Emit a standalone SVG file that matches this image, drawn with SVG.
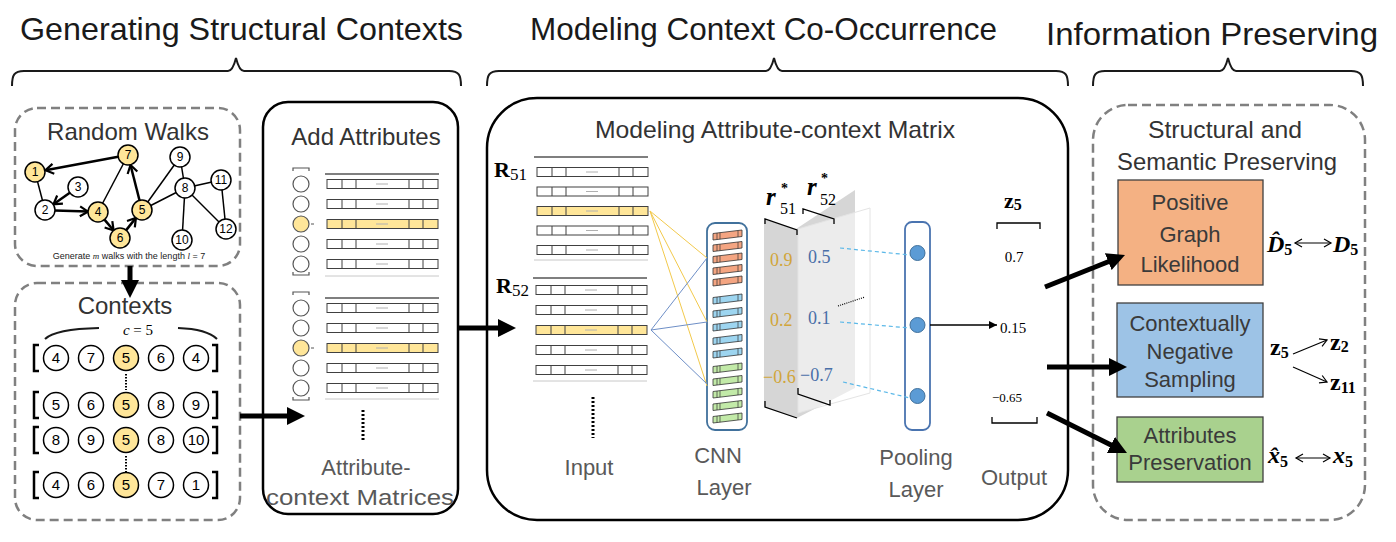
<svg xmlns="http://www.w3.org/2000/svg" width="1396" height="542" viewBox="0 0 1396 542">
<defs>
<style>
text{font-family:"Liberation Sans",Arial,sans-serif}
.title{font-size:32px;fill:#1a1a1a}
.ptitle{font-size:24px;fill:#333;text-anchor:middle}
.glbl{font-size:22px;fill:#595959;text-anchor:middle}
.btxt{font-size:22px;fill:#3a3a3a;text-anchor:middle}
.brace{fill:none;stroke:#1a1a1a;stroke-width:2}
.dash{fill:#fff;stroke:#808080;stroke-width:2.5;stroke-dasharray:9 5}
.solid{fill:#fff;stroke:#000;stroke-width:2.5}
.gn circle{fill:#fff;stroke:#000;stroke-width:1.5}
.gn text{font-size:12px;text-anchor:middle;fill:#000}
.yl circle{fill:#ffe699}
.edge{stroke:#000;stroke-width:1.5}
.warr{stroke:#000;stroke-width:2.5;marker-end:url(#vhead)}
.thick{stroke:#000;stroke-width:5;fill:none;marker-end:url(#bighead)}
.cn circle{fill:#fff;stroke:#000;stroke-width:1.5}
.cn .y{fill:#ffe699}
.cn text{font-size:15px;text-anchor:middle}
.brk{fill:none;stroke:#000;stroke-width:2.5}
.vb{fill:none;stroke:#555;stroke-width:1.2}
.ac{fill:#fff;stroke:#555;stroke-width:1.2}
.math{font-family:"Liberation Serif","DejaVu Serif",serif;font-weight:bold}
.num{font-family:"Liberation Serif","DejaVu Serif",serif}
.gold{fill:#d1a53a;font-size:18px}
.blu{fill:#4a6fa8;font-size:18px}
.cl{stroke-width:1;fill:none}
.pd{stroke:#5bb8e8;stroke-width:1.2;stroke-dasharray:4 3}
.tline{stroke:#000;stroke-width:1.2}
.bline{stroke:#c8c8c8;stroke-width:1}
.small{stroke:#000;stroke-width:1.3;fill:none}
</style>
<marker id="vhead" markerUnits="userSpaceOnUse" markerWidth="14" markerHeight="14" refX="10" refY="7" orient="auto">
<path d="M2,2 L10,7 L2,12" fill="none" stroke="#000" stroke-width="2.2"/>
</marker>
<marker id="bighead" markerUnits="userSpaceOnUse" markerWidth="20" markerHeight="18" refX="4" refY="9" orient="auto">
<path d="M0,0 L18,9 L0,18 z" fill="#000"/>
</marker>
<marker id="thinhead" markerUnits="userSpaceOnUse" markerWidth="10" markerHeight="10" refX="8" refY="5" orient="auto">
<path d="M0,1 L8,5 L0,9 z" fill="#000"/>
</marker>
<marker id="openhead" markerUnits="userSpaceOnUse" markerWidth="10" markerHeight="10" refX="8" refY="5" orient="auto">
<path d="M1,1 L8,5 L1,9" fill="none" stroke="#000" stroke-width="1.2"/>
</marker>
<marker id="openstart" markerUnits="userSpaceOnUse" markerWidth="10" markerHeight="10" refX="2" refY="5" orient="auto">
<path d="M9,1 L2,5 L9,9" fill="none" stroke="#000" stroke-width="1.2"/>
</marker>
<g id="row">
<rect x="0" y="-4.5" width="111" height="9" stroke="#404040" stroke-width="1"/>
<path d="M15,-4.5v9M29,-4.5v9M82,-4.5v9M96,-4.5v9" stroke="#404040" stroke-width="1" fill="none"/>
<path d="M49,0h12" stroke="#b0b0b0" stroke-width="1" fill="none"/>
</g>
<g id="bar">
<polygon points="0,3.5 29,0 29,6.5 0,10" stroke="#333" stroke-width="0.8"/>
<path d="M4,3 v6.5 M7,2.7 v6.5 M25,0.5 v6.5" stroke="#333" stroke-width="0.7" fill="none"/>
</g>
</defs>

<!-- section titles -->
<g id="titles">
<text class="title" x="20" y="40" textLength="443" lengthAdjust="spacingAndGlyphs">Generating Structural Contexts</text>
<text class="title" x="530" y="40" textLength="467" lengthAdjust="spacingAndGlyphs">Modeling Context Co-Occurrence</text>
<text class="title" x="1046" y="45" textLength="332" lengthAdjust="spacingAndGlyphs">Information Preserving</text>
<path class="brace" d="M12,86 C12,75 14,71 24,71 L228,71 C232,71 234,66 236,58 C238,66 240,71 244,71 L449,71 C459,71 461,75 461,86"/>
<path class="brace" d="M487,86 C487,75 489,71 499,71 L766,71 C770,71 772,66 774,58 C776,66 778,71 782,71 L1056,71 C1066,71 1068,75 1068,86"/>
<path class="brace" d="M1093,86 C1093,75 1095,71 1105,71 L1220,71 C1224,71 1226,66 1228,58 C1230,66 1232,71 1236,71 L1351,71 C1361,71 1363,75 1363,86"/>
</g>

<!-- Random walks panel -->
<g id="random-walks">
<rect class="dash" x="15" y="108" width="225" height="158" rx="22"/>
<text class="ptitle" x="128" y="140">Random Walks</text>
<g id="rw-edges">
<line class="edge" x1="35" y1="172" x2="45" y2="210"/>
<line class="edge" x1="98" y1="212" x2="128" y2="155"/>
<line class="edge" x1="142" y1="210" x2="180" y2="157"/>
<line class="edge" x1="142" y1="210" x2="185" y2="188"/>
<line class="edge" x1="180" y1="157" x2="185" y2="188"/>
<line class="edge" x1="185" y1="188" x2="221" y2="180"/>
<line class="edge" x1="185" y1="188" x2="182" y2="240"/>
<line class="edge" x1="185" y1="188" x2="226" y2="229"/>
<line class="edge" x1="221" y1="180" x2="226" y2="229"/>
<line class="warr" x1="118.2" y1="156.8" x2="45.5" y2="170.2"/>
<line class="warr" x1="69.8" y1="192.7" x2="53.5" y2="204.2"/>
<line class="warr" x1="55" y1="210.4" x2="88" y2="211.6"/>
<line class="warr" x1="104.5" y1="219.6" x2="113.6" y2="230.5"/>
<line class="warr" x1="126.2" y1="230.1" x2="135.9" y2="217.9"/>
<line class="warr" x1="139.5" y1="200.3" x2="130.5" y2="165"/>
</g>
<g id="n1" class="gn yl"><circle cx="35" cy="172" r="10"/><text x="35" y="176">1</text></g>
<g id="n2" class="gn"><circle cx="45" cy="210" r="10"/><text x="45" y="214">2</text></g>
<g id="n3" class="gn"><circle cx="78" cy="187" r="10"/><text x="78" y="191">3</text></g>
<g id="n4" class="gn yl"><circle cx="98" cy="212" r="10"/><text x="98" y="216">4</text></g>
<g id="n5" class="gn yl"><circle cx="142" cy="210" r="10"/><text x="142" y="214">5</text></g>
<g id="n6" class="gn yl"><circle cx="120" cy="238" r="10"/><text x="120" y="242">6</text></g>
<g id="n7" class="gn yl"><circle cx="128" cy="155" r="10"/><text x="128" y="159">7</text></g>
<g id="n8" class="gn"><circle cx="185" cy="188" r="10"/><text x="185" y="192">8</text></g>
<g id="n9" class="gn"><circle cx="180" cy="157" r="10"/><text x="180" y="161">9</text></g>
<g id="n10" class="gn"><circle cx="182" cy="240" r="10"/><text x="182" y="244">10</text></g>
<g id="n11" class="gn"><circle cx="221" cy="180" r="10"/><text x="221" y="184">11</text></g>
<g id="n12" class="gn"><circle cx="226" cy="229" r="10"/><text x="226" y="233">12</text></g>
<text x="129" y="259" font-size="9" text-anchor="middle" fill="#222">Generate <tspan font-family="Liberation Serif" font-style="italic">m</tspan> walks with the length <tspan font-family="Liberation Serif" font-style="italic">l</tspan> = 7</text>
</g>

<!-- Contexts panel -->
<g id="contexts">
<rect class="dash" x="15" y="283" width="225" height="237" rx="22"/>
<text class="ptitle" x="125" y="314" font-size="23">Contexts</text>
<path class="brace" d="M45,339 Q55,329 99,328 M178,328 Q207,329 217,339"/>
<text x="138" y="335" font-size="15" text-anchor="middle" class="num"><tspan font-style="italic">c</tspan> = 5</text>
<g class="cn">
<path class="brk" d="M39,345 h-5 v26 h5 M212,345 h5 v26 h-5"/>
<circle cx="56" cy="358" r="12.5"/><text x="56" y="363">4</text>
<circle cx="91" cy="358" r="12.5"/><text x="91" y="363">7</text>
<circle class="y" cx="126" cy="358" r="12.5"/><text x="126" y="363">5</text>
<circle cx="161" cy="358" r="12.5"/><text x="161" y="363">6</text>
<circle cx="196" cy="358" r="12.5"/><text x="196" y="363">4</text>
<path d="M126,374 V390" stroke="#000" stroke-width="2" stroke-dasharray="1.5 1.5"/>
<path class="brk" d="M39,392 h-5 v26 h5 M212,392 h5 v26 h-5"/>
<circle cx="56" cy="405" r="12.5"/><text x="56" y="410">5</text>
<circle cx="91" cy="405" r="12.5"/><text x="91" y="410">6</text>
<circle class="y" cx="126" cy="405" r="12.5"/><text x="126" y="410">5</text>
<circle cx="161" cy="405" r="12.5"/><text x="161" y="410">8</text>
<circle cx="196" cy="405" r="12.5"/><text x="196" y="410">9</text>
<path class="brk" d="M39,427 h-5 v26 h5 M212,427 h5 v26 h-5"/>
<circle cx="56" cy="440" r="12.5"/><text x="56" y="445">8</text>
<circle cx="91" cy="440" r="12.5"/><text x="91" y="445">9</text>
<circle class="y" cx="126" cy="440" r="12.5"/><text x="126" y="445">5</text>
<circle cx="161" cy="440" r="12.5"/><text x="161" y="445">8</text>
<circle cx="196" cy="440" r="12.5"/><text x="196" y="445">10</text>
<path d="M126,456 V473" stroke="#000" stroke-width="2" stroke-dasharray="1.5 1.5"/>
<path class="brk" d="M39,472 h-5 v26 h5 M212,472 h5 v26 h-5"/>
<circle cx="56" cy="485" r="12.5"/><text x="56" y="490">4</text>
<circle cx="91" cy="485" r="12.5"/><text x="91" y="490">6</text>
<circle class="y" cx="126" cy="485" r="12.5"/><text x="126" y="490">5</text>
<circle cx="161" cy="485" r="12.5"/><text x="161" y="490">7</text>
<circle cx="196" cy="485" r="12.5"/><text x="196" y="490">1</text>
</g>
</g>

<!-- Add attributes panel -->
<g id="add-attributes">
<rect class="solid" x="263" y="102" width="195" height="412" rx="25"/>
<text class="ptitle" x="366" y="145">Add Attributes</text>
<path class="vb" d="M293,171 v-3 h16 v3 M293,272 v3 h16 v-3 M293,295 v-3 h16 v3 M293,397 v3 h16 v-3"/>
<circle class="ac" cx="301" cy="184" r="8"/>
<circle class="ac" cx="301" cy="204" r="8"/>
<circle class="ac" cx="301" cy="224" r="8" style="fill:#ffe699"/>
<circle class="ac" cx="301" cy="244" r="8"/>
<circle class="ac" cx="301" cy="264" r="8"/>
<circle class="ac" cx="301" cy="308" r="8"/>
<circle class="ac" cx="301" cy="328" r="8"/>
<circle class="ac" cx="301" cy="348" r="8" style="fill:#ffe699"/>
<circle class="ac" cx="301" cy="368" r="8"/>
<circle class="ac" cx="301" cy="388" r="8"/>
<path d="M311,224h3 M311,348h3" stroke="#555" stroke-width="1"/>
<line class="tline" x1="325" y1="174" x2="439" y2="174"/>
<line class="bline" x1="325" y1="276" x2="439" y2="276"/>
<line class="tline" x1="325" y1="298" x2="439" y2="298"/>
<line class="bline" x1="325" y1="399" x2="439" y2="399"/>
<use href="#row" x="327" y="184" fill="#fff"/>
<use href="#row" x="327" y="204" fill="#fff"/>
<use href="#row" x="327" y="224" fill="#ffe699"/>
<use href="#row" x="327" y="244" fill="#fff"/>
<use href="#row" x="327" y="264" fill="#fff"/>
<use href="#row" x="327" y="308" fill="#fff"/>
<use href="#row" x="327" y="328" fill="#fff"/>
<use href="#row" x="327" y="348" fill="#ffe699"/>
<use href="#row" x="327" y="368" fill="#fff"/>
<use href="#row" x="327" y="388" fill="#fff"/>
<path d="M363,410 V442" stroke="#000" stroke-width="3" stroke-dasharray="2 2"/>
<text class="glbl" x="366" y="475">Attribute-</text>
<text class="glbl" x="360" y="505" textLength="188" lengthAdjust="spacingAndGlyphs">context Matrices</text>
</g>

<!-- Modeling panel -->
<g id="modeling">
<rect class="solid" x="487" y="98" width="581" height="422" rx="50"/>
<text class="ptitle" x="775" y="138" textLength="360" lengthAdjust="spacingAndGlyphs">Modeling Attribute-context Matrix</text>
<g id="input">
<text class="math" x="494" y="177" font-size="22">R<tspan font-size="17" dy="3" font-weight="normal">51</tspan></text>
<text class="math" x="496" y="293" font-size="22">R<tspan font-size="17" dy="3" font-weight="normal">52</tspan></text>
<line class="tline" x1="534" y1="157" x2="648" y2="157"/>
<line class="bline" x1="534" y1="260" x2="648" y2="260"/>
<line class="tline" x1="533" y1="278" x2="647" y2="278"/>
<line class="bline" x1="533" y1="381" x2="647" y2="381"/>
<use href="#row" x="537" y="172" fill="#fff"/>
<use href="#row" x="537" y="191.5" fill="#fff"/>
<use href="#row" x="537" y="211" fill="#ffe699"/>
<use href="#row" x="537" y="230.5" fill="#fff"/>
<use href="#row" x="537" y="250" fill="#fff"/>
<use href="#row" x="536" y="290" fill="#fff"/>
<use href="#row" x="536" y="310" fill="#fff"/>
<use href="#row" x="536" y="330" fill="#ffe699"/>
<use href="#row" x="536" y="350" fill="#fff"/>
<use href="#row" x="536" y="370" fill="#fff"/>
<path d="M593,397 V438" stroke="#000" stroke-width="3" stroke-dasharray="2 2"/>
<text class="glbl" x="589" y="475">Input</text>
</g>
<g id="cnn">
<rect x="707" y="223" width="40" height="207" rx="8" fill="#fff" stroke="#41719c" stroke-width="1.8"/>
<use href="#bar" x="713" y="230" fill="#f4a582"/>
<use href="#bar" x="713" y="241.5" fill="#f4a582"/>
<use href="#bar" x="713" y="253" fill="#f4a582"/>
<use href="#bar" x="713" y="264.5" fill="#f4a582"/>
<use href="#bar" x="713" y="276" fill="#f4a582"/>
<use href="#bar" x="713" y="294" fill="#9dd5f0"/>
<use href="#bar" x="713" y="307.5" fill="#9dd5f0"/>
<use href="#bar" x="713" y="321" fill="#9dd5f0"/>
<use href="#bar" x="713" y="334.5" fill="#9dd5f0"/>
<use href="#bar" x="713" y="348" fill="#9dd5f0"/>
<use href="#bar" x="713" y="363" fill="#c2eaa8"/>
<use href="#bar" x="713" y="375.5" fill="#c2eaa8"/>
<use href="#bar" x="713" y="388" fill="#c2eaa8"/>
<use href="#bar" x="713" y="400.5" fill="#c2eaa8"/>
<use href="#bar" x="713" y="413" fill="#c2eaa8"/>
<text class="glbl" x="718" y="463">CNN</text>
<text class="glbl" x="724" y="495">Layer</text>
</g>
<g id="planes">
<polygon points="764,219 796,229 855,190 855,388 797,418 764,407" fill="#d6d6d6"/>
<polygon points="798,229 870,208 870,393 798,413" fill="#fff" fill-opacity="0.55" stroke="#e4e4e4" stroke-width="1"/>
<path class="small" stroke-width="2" d="M765,224 L765,219 L797,230 L797,235"/>
<path class="small" stroke-width="1.6" d="M803,214 L803,209 L834,219 L834,224"/>
<path class="small" stroke-width="2" d="M765,401 L765,407 L797,418"/>
<path class="small" stroke-width="1.6" d="M798,388 L798,394 L830,405 L830,400"/>
<text class="math" x="766" y="205" font-size="25" font-style="italic">r</text>
<text class="math" x="781" y="193" font-size="14">*</text>
<text class="num" x="780" y="214" font-size="16">51</text>
<text class="math" x="807" y="195" font-size="25" font-style="italic">r</text>
<text class="math" x="821" y="183" font-size="14">*</text>
<text class="num" x="820" y="205" font-size="16">52</text>
<text class="num gold" x="770" y="266">0.9</text>
<text class="num gold" x="770" y="326">0.2</text>
<text class="num gold" x="763" y="383">−0.6</text>
<text class="num blu" x="808" y="263">0.5</text>
<text class="num blu" x="808" y="324">0.1</text>
<text class="num blu" x="800" y="381">−0.7</text>
<path d="M838,306 L865,297" stroke="#000" stroke-width="1.2" stroke-dasharray="1 1.2"/>
</g>
<g id="pooling">
<rect x="905" y="222" width="25" height="208" rx="7" fill="#fff" stroke="#4a74b0" stroke-width="1.8"/>
<circle cx="917.5" cy="253" r="7.5" fill="#5b9bd5" stroke="#41719c" stroke-width="1"/>
<circle cx="917.5" cy="325" r="7.5" fill="#5b9bd5" stroke="#41719c" stroke-width="1"/>
<circle cx="917.5" cy="396" r="7.5" fill="#5b9bd5" stroke="#41719c" stroke-width="1"/>
<text class="glbl" x="916" y="465">Pooling</text>
<text class="glbl" x="916" y="497">Layer</text>
</g>
<g id="output">
<text class="math" x="1004" y="208" font-size="22">z<tspan font-size="16" dy="2">5</tspan></text>
<path class="small" d="M997,229 L997,223 L1040,223 L1040,229"/>
<text class="num" x="1014" y="262" font-size="15" text-anchor="middle">0.7</text>
<text class="num" x="1000" y="333" font-size="15">0.15</text>
<text class="num" x="992" y="402" font-size="13">−0.65</text>
<path class="small" d="M992,417 L992,423 L1037,423 L1037,417"/>
<text class="glbl" x="1014" y="485">Output</text>
</g>
</g>

<!-- Right panel -->
<g id="preserving">
<rect class="dash" x="1093" y="105" width="272" height="415" rx="35"/>
<text class="ptitle" x="1225" y="138" font-size="22" textLength="154" lengthAdjust="spacingAndGlyphs">Structural and</text>
<text class="ptitle" x="1227" y="170" font-size="22" textLength="220" lengthAdjust="spacingAndGlyphs">Semantic Preserving</text>
<g id="positive">
<rect x="1118" y="180" width="145" height="105" fill="#f4b183" stroke="#404040" stroke-width="1.3"/>
<text class="btxt" x="1190" y="210">Positive</text>
<text class="btxt" x="1190" y="242">Graph</text>
<text class="btxt" x="1190" y="272">Likelihood</text>
</g>
<g id="negative">
<rect x="1117" y="303" width="146" height="94" fill="#9dc3e6" stroke="#404040" stroke-width="1.3"/>
<text class="btxt" x="1190" y="331">Contextually</text>
<text class="btxt" x="1190" y="359">Negative</text>
<text class="btxt" x="1190" y="387">Sampling</text>
</g>
<g id="attrpres">
<rect x="1117" y="417" width="146" height="65" fill="#a9d18e" stroke="#404040" stroke-width="1.3"/>
<text class="btxt" x="1190" y="443">Attributes</text>
<text class="btxt" x="1190" y="470">Preservation</text>
</g>
<g id="formulas">
<text class="math" x="1267" y="252" font-size="24" font-style="italic">D̂<tspan font-size="16" font-style="normal" dy="3">5</tspan></text>
<line x1="1295" y1="243" x2="1331" y2="243" stroke="#000" stroke-width="1.2" marker-start="url(#openstart)" marker-end="url(#openhead)"/>
<text class="math" x="1333" y="252" font-size="24" font-style="italic">D<tspan font-size="16" font-style="normal" dy="3">5</tspan></text>
<text class="math" x="1270" y="355" font-size="24">z<tspan font-size="16" dy="3">5</tspan></text>
<line x1="1293" y1="354" x2="1327" y2="340" stroke="#000" stroke-width="1.2" marker-end="url(#openhead)"/>
<line x1="1293" y1="367" x2="1327" y2="382" stroke="#000" stroke-width="1.2" marker-end="url(#openhead)"/>
<text class="math" x="1330" y="350" font-size="24">z<tspan font-size="16" dy="2">2</tspan></text>
<text class="math" x="1330" y="390" font-size="24">z<tspan font-size="16" dy="3">11</tspan></text>
<text class="math" x="1268" y="463" font-size="24" font-style="italic">x̂<tspan font-size="16" font-style="normal" dy="4">5</tspan></text>
<line x1="1296" y1="458" x2="1330" y2="458" stroke="#000" stroke-width="1.2" marker-start="url(#openstart)" marker-end="url(#openhead)"/>
<text class="math" x="1333" y="463" font-size="24" font-style="italic">x<tspan font-size="16" font-style="normal" dy="4">5</tspan></text>
</g>
</g>

<!-- connectors -->
<g id="connectors">
<line class="thick" x1="130" y1="266" x2="130" y2="284"/>
<line class="thick" x1="240" y1="416" x2="291" y2="416"/>
<line class="thick" x1="458" y1="328" x2="502" y2="328"/>
<g class="cl" stroke="#f2c94c">
<line x1="650" y1="211" x2="707" y2="258"/>
<line x1="650" y1="211" x2="707" y2="322"/>
<line x1="650" y1="211" x2="707" y2="386"/>
</g>
<g class="cl" stroke="#6e8fc7">
<line x1="651" y1="330" x2="707" y2="258"/>
<line x1="651" y1="330" x2="707" y2="322"/>
<line x1="651" y1="330" x2="707" y2="384"/>
</g>
<line class="pd" x1="840" y1="248" x2="910" y2="255"/>
<line class="pd" x1="840" y1="322" x2="910" y2="328"/>
<line class="pd" x1="843" y1="382" x2="910" y2="398"/>
<line x1="930" y1="325" x2="997" y2="325" stroke="#000" stroke-width="1.3" marker-end="url(#thinhead)"/>
<line class="thick" x1="1045" y1="287" x2="1112" y2="260.2"/>
<line class="thick" x1="1047" y1="367" x2="1113" y2="367"/>
<line class="thick" x1="1047" y1="413" x2="1114.5" y2="446.7"/>
</g>
</svg>
